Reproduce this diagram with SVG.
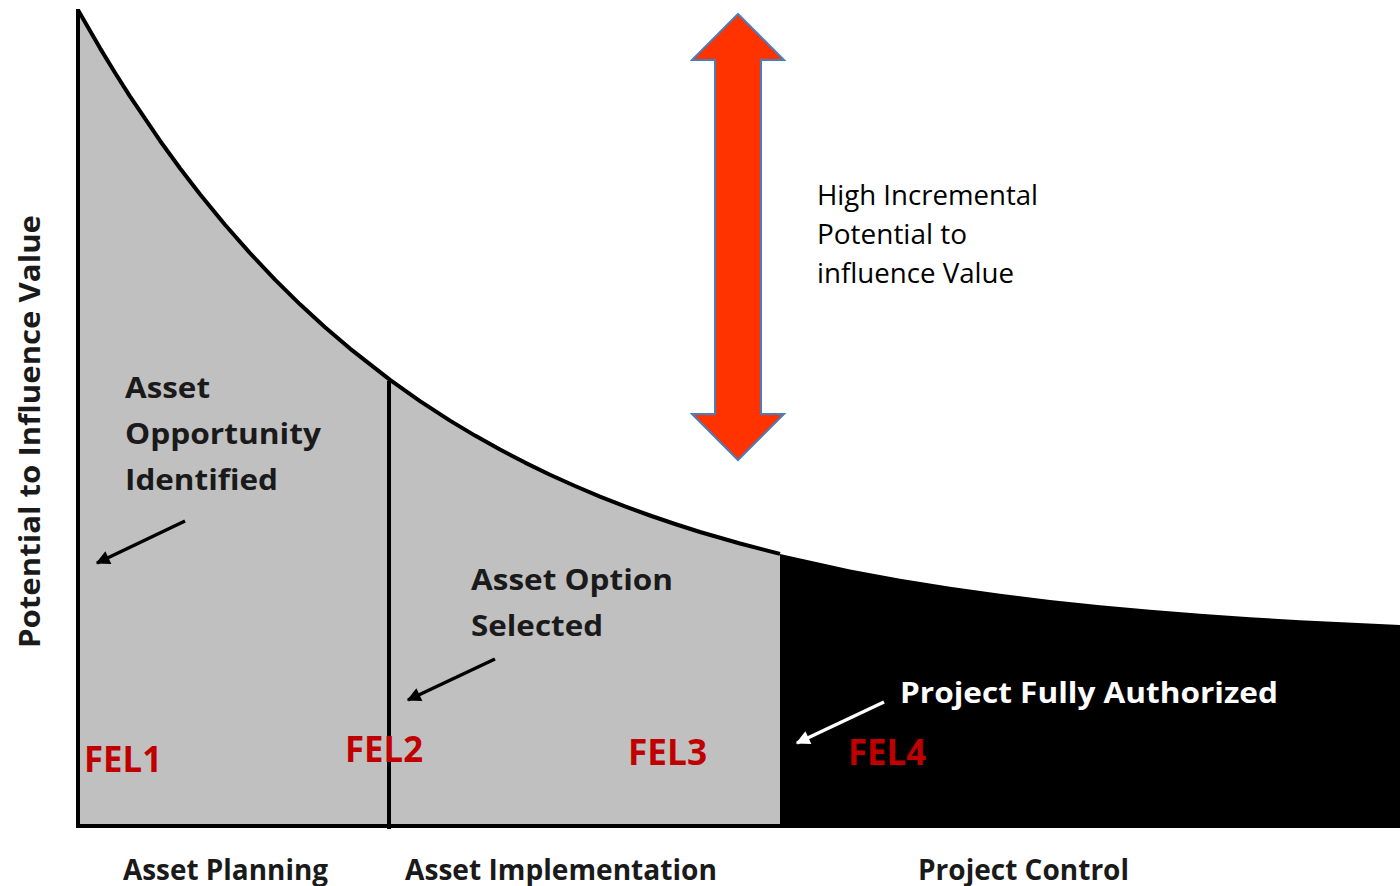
<svg xmlns="http://www.w3.org/2000/svg" width="1400" height="886" viewBox="0 0 1400 886">
<style>
.lbl{font-family:"Open Sans","Liberation Sans",sans-serif;font-weight:bold;fill:#1a1a1a;font-size:29px}
.fel{font-family:"Open Sans","Liberation Sans",sans-serif;font-weight:bold;fill:#C00000;font-size:35px}
.note{font-family:"Open Sans","Liberation Sans",sans-serif;fill:#000;font-size:27px}
.ax{stroke:#000;stroke-width:4;fill:none}
.conn{stroke:#000;stroke-width:3.5;fill:none}
</style>
<defs>
<marker id="ahB" viewBox="0 0 10 10" refX="9" refY="5" markerWidth="18" markerHeight="14" orient="auto" markerUnits="userSpaceOnUse"><path d="M0,0 L10,5 L0,10 z" fill="#000"/></marker>
<marker id="ahW" viewBox="0 0 10 10" refX="9" refY="5" markerWidth="18" markerHeight="14" orient="auto" markerUnits="userSpaceOnUse"><path d="M0,0 L10,5 L0,10 z" fill="#fff"/></marker>
</defs>
<rect width="1400" height="886" fill="#fff"/>
<g id="chart">
<path id="planning-area" fill="#C0C0C0" d="M78,826 L78,10 L100,48.1 L115,72.7 L130,96.4 L160,140.7 L180,168.2 L200,194.2 L225,224.7 L250,253.1 L275,279.6 L300,304.3 L325,327.2 L350,348.6 L390,379.9 L420,401.1 L450,420.6 L475,435.6 L500,449.6 L525,462.6 L550,474.7 L575,486 L600,496.6 L625,506.4 L650,515.5 L675,524 L700,532 L740,543.5 L780,553.9 L780,826 Z"/>
<path id="control-area" fill="#000" d="M780,828 L780,553.9 L850,569.4 L900,578.7 L950,586.8 L1000,593.8 L1050,600 L1100,605.2 L1150,609.8 L1200,613.8 L1250,617.3 L1300,620.3 L1400,625 L1400,828 Z"/>
<polyline class="ax" stroke-width="3.5" stroke-linejoin="round" points="78,10 100,48.1 115,72.7 130,96.4 160,140.7 180,168.2 200,194.2 225,224.7 250,253.1 275,279.6 300,304.3 325,327.2 350,348.6 390,379.9 420,401.1 450,420.6 475,435.6 500,449.6 525,462.6 550,474.7 575,486 600,496.6 625,506.4 650,515.5 675,524 700,532 740,543.5 780,553.9"/>
<line class="ax" x1="78" y1="9" x2="78" y2="828"/>
<line class="ax" x1="76" y1="826" x2="782" y2="826"/>
<line class="ax" stroke-width="3" x1="389" y1="381" x2="389" y2="829"/>
</g>
<g id="influence-arrow">
<polygon points="738,14 784,60 761,60 761,414 784,414 738,460 692,414 715,414 715,60 692,60" fill="#FF3300" stroke="#4A7EBB" stroke-width="2"/>
<text class="note" x="817" y="205" textLength="221" lengthAdjust="spacingAndGlyphs">High Incremental</text>
<text class="note" x="817" y="244" textLength="150" lengthAdjust="spacingAndGlyphs">Potential to</text>
<text class="note" x="817" y="283" textLength="197" lengthAdjust="spacingAndGlyphs">influence Value</text>
</g>
<g id="y-axis-label">
<text class="lbl" transform="translate(40,648) rotate(-90)" x="0" y="0" textLength="433" lengthAdjust="spacingAndGlyphs">Potential to Influence Value</text>
</g>
<g id="node-opportunity">
<text class="lbl" x="125" y="398" textLength="85" lengthAdjust="spacingAndGlyphs">Asset</text>
<text class="lbl" x="125" y="444" textLength="196" lengthAdjust="spacingAndGlyphs">Opportunity</text>
<text class="lbl" x="125" y="490" textLength="153" lengthAdjust="spacingAndGlyphs">Identified</text>
</g>
<g id="node-option">
<text class="lbl" x="471" y="590" textLength="202" lengthAdjust="spacingAndGlyphs">Asset Option</text>
<text class="lbl" x="471" y="636" textLength="132" lengthAdjust="spacingAndGlyphs">Selected</text>
</g>
<g id="node-authorized">
<text class="lbl" style="fill:#fff" x="900" y="703" textLength="378" lengthAdjust="spacingAndGlyphs">Project Fully Authorized</text>
</g>
<g id="fel-labels">
<text class="fel" x="84" y="772" textLength="78" lengthAdjust="spacingAndGlyphs">FEL1</text>
<text class="fel" x="345" y="762" textLength="78" lengthAdjust="spacingAndGlyphs">FEL2</text>
<text class="fel" x="628" y="765" textLength="79" lengthAdjust="spacingAndGlyphs">FEL3</text>
<text class="fel" x="848" y="765" textLength="78" lengthAdjust="spacingAndGlyphs">FEL4</text>
</g>
<g id="phase-labels">
<text class="lbl" x="123" y="880" textLength="205" lengthAdjust="spacingAndGlyphs">Asset Planning</text>
<text class="lbl" x="405" y="880" textLength="312" lengthAdjust="spacingAndGlyphs">Asset Implementation</text>
<text class="lbl" x="918" y="880" textLength="211" lengthAdjust="spacingAndGlyphs">Project Control</text>
</g>
<g id="connectors">
<line class="conn" x1="185" y1="521" x2="97" y2="563" marker-end="url(#ahB)"/>
<line class="conn" x1="495" y1="659" x2="408" y2="700" marker-end="url(#ahB)"/>
<line class="conn" style="stroke:#fff" x1="884" y1="702" x2="797" y2="743" marker-end="url(#ahW)"/>
</g>
</svg>
